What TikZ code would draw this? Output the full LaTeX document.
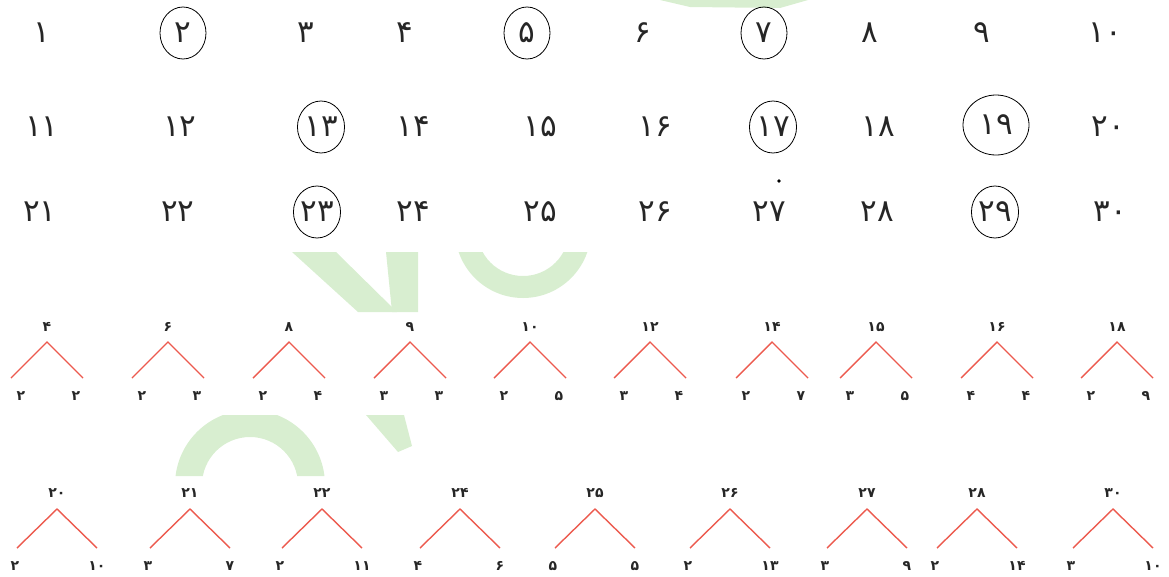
\documentclass[tikz,border=0pt]{standalone}
\usepackage{fontspec}
\newfontfamily\fafont[Script=Arabic]{DejaVu Sans}
\usetikzlibrary{shapes.geometric}
\definecolor{wgreen}{RGB}{216,238,208}
\definecolor{branchred}{RGB}{236,90,78}

\begin{document}
\begin{tikzpicture}[
        x=1pt, y=-1pt,
        numcell/.style={font=\fafont\fontsize{31}{33}\selectfont, text=black!85, inner sep=0pt},
        primecell/.style={numcell, draw=black, ellipse, line width=0.8pt, minimum width=46pt, minimum height=52pt},
        toplbl/.style={font=\fafont\bfseries\fontsize{14}{16}\selectfont, text=black!85, inner sep=0pt},
        leaflbl/.style={toplbl},
        branch/.style={draw=branchred, line width=1.4pt},
        wmark/.style={fill=wgreen, draw=none},
      ]
        \useasboundingbox (0,0) rectangle (1169,576);

        % faint logo behind the rows
        \begin{scope}
          \clip (0,0) rectangle (1169,8) (0,252) rectangle (1169,312) (0,415) rectangle (1169,476);
          \fill[wmark] (660,0) -- (690,7) -- (780,8) -- (808,0) -- cycle;
          \fill[wmark] (292,252) -- (336,252) -- (397,312) -- (358,312) -- cycle;
          \fill[wmark] (386,252) -- (418,252) -- (418,312) -- (392,312) -- cycle;
          \fill[wmark, even odd rule] (523,230) circle (68) (523,230) circle (46);
          \fill[wmark, even odd rule] (250,485) circle (75) (250,485) circle (48);
          \fill[wmark] (366,415) -- (404,415) -- (412,446) -- (398,452) -- cycle;
        \end{scope}

        % numbers 1 to 30, primes circled
        \node[numcell]   (n1)  at (42,33)   {۱};
        \node[primecell] (n2)  at (183,33)  {۲};
        \node[numcell]   (n3)  at (306,33)  {۳};
        \node[numcell]   (n4)  at (405,33)  {۴};
        \node[primecell] (n5)  at (527,33)  {۵};
        \node[numcell]   (n6)  at (643,33)  {۶};
        \node[primecell] (n7)  at (764,33)  {۷};
        \node[numcell]   (n8)  at (870,33)  {۸};
        \node[numcell]   (n9)  at (982,33)  {۹};
        \node[numcell]   (n10) at (1105,33) {۱۰};

        \node[numcell]   (n11) at (42,127)  {۱۱};
        \node[numcell]   (n12) at (180,127) {۱۲};
        \node[primecell] (n13) at (321,127) {۱۳};
        \node[numcell]   (n14) at (413,127) {۱۴};
        \node[numcell]   (n15) at (540,127) {۱۵};
        \node[numcell]   (n16) at (655,127) {۱۶};
        \node[primecell] (n17) at (773,127) {۱۷};
        \node[numcell]   (n18) at (878,127) {۱۸};
        \node[primecell, minimum width=66pt, minimum height=60pt] (n19) at (996,125) {۱۹};
        \node[numcell]   (n20) at (1108,127) {۲۰};

        \node[numcell]   (n21) at (40,212)  {۲۱};
        \node[numcell]   (n22) at (178,212) {۲۲};
        \node[primecell] (n23) at (317,212) {۲۳};
        \node[numcell]   (n24) at (413,212) {۲۴};
        \node[numcell]   (n25) at (540,212) {۲۵};
        \node[numcell]   (n26) at (655,212) {۲۶};
        \node[numcell]   (n27) at (769,212) {۲۷};
        \node[numcell]   (n28) at (877,212) {۲۸};
        \node[primecell] (n29) at (995,212) {۲۹};
        \node[numcell]   (n30) at (1110,212) {۳۰};
        \fill (779,181) circle (1.8);

        % factor trees, first row
        \foreach \i/\x/\n/\l/\r in {1/47/۴/۲/۲, 2/168/۶/۲/۳, 3/289/۸/۲/۴, 4/410/۹/۳/۳, 5/530/۱۰/۲/۵,
                                     6/650/۱۲/۳/۴, 7/772/۱۴/۲/۷, 8/876/۱۵/۳/۵, 9/997/۱۶/۴/۴, 10/1117/۱۸/۲/۹} {
          \node[toplbl] (t\i) at (\x,327) {\n};
          \coordinate (a\i) at (\x,342);
          \coordinate (p\i) at (\x-36,378);
          \coordinate (q\i) at (\x+36,378);
          \node[leaflbl] (l\i) at (\x-26,396) {\l};
          \node[leaflbl] (r\i) at (\x+29,396) {\r};
          \draw[branch] (p\i) -- (a\i) -- (q\i);
        }

        % factor trees, second row
        \foreach \i/\x/\n/\l/\r in {1/57/۲۰/۲/۱۰, 2/190/۲۱/۳/۷, 3/322/۲۲/۲/۱۱, 4/460/۲۴/۴/۶, 5/595/۲۵/۵/۵,
                                     6/730/۲۶/۲/۱۳, 7/867/۲۷/۳/۹, 8/977/۲۸/۲/۱۴, 9/1113/۳۰/۳/۱۰} {
          \node[toplbl] (u\i) at (\x,493) {\n};
          \coordinate (b\i) at (\x,509);
          \coordinate (s\i) at (\x-40,548);
          \coordinate (v\i) at (\x+40,548);
          \node[leaflbl] (m\i) at (\x-42,566) {\l};
          \node[leaflbl] (w\i) at (\x+40,566) {\r};
          \draw[branch] (s\i) -- (b\i) -- (v\i);
        }
      \end{tikzpicture}
\end{document}
